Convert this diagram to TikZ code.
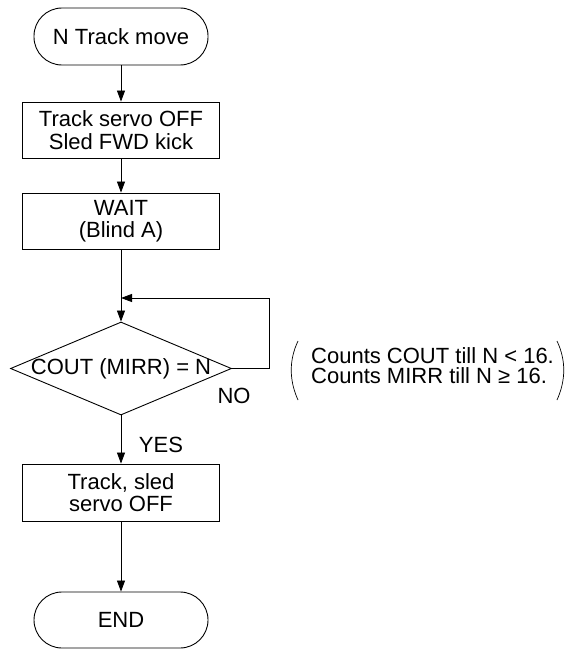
\documentclass[tikz,border=0pt]{standalone}
\usepackage{fontspec}
\setmainfont{Liberation Sans}
\usetikzlibrary{arrows.meta,shapes.geometric}
\tikzset{
  base/.style={draw, line width=0.9pt, inner sep=0pt, align=center, font=\fontsize{22}{22.5}\selectfont},
  term/.style={base, rectangle, rounded corners=28pt, minimum width=174pt, minimum height=57pt},
  proc/.style={base, rectangle, minimum width=197pt, minimum height=57pt},
  conn/.style={line width=0.8pt, -{Triangle[length=11pt,width=8pt]}},
  lbl/.style={font=\fontsize{22}{22}\selectfont, inner sep=0pt},
  paren/.style={line width=0.7pt}
}
\begin{document}
\begin{tikzpicture}[x=1pt,y=-1pt]
\useasboundingbox (0,0) rectangle (567,653);
\node[term] (start) at (121,36.5) {N Track move};
\node[proc, minimum height=56pt] (box1) at (121,130) {Track servo OFF\\Sled FWD kick};
\node[proc, minimum height=56pt] (box2) at (121,221) {WAIT\\(Blind A)};
\node[draw, line width=0.9pt, diamond, inner sep=0pt, minimum width=221pt, minimum height=93pt] (dec) at (121,368.5) {};
\node[lbl] (dectext) at (dec.center) {COUT (MIRR) = N};
\node[proc] (box3) at (121,492.5) {Track, sled\\servo OFF};
\node[term, minimum height=56pt] (end) at (121,620) {END};
\coordinate (join) at (121,298);
\draw[conn] (start) -- (box1);
\draw[conn] (box1) -- (box2);
\draw[conn] (box2) -- (dec.north);
\draw[conn] (dec.south) -- (box3);
\draw[conn] (box3) -- (end);
\draw[conn] (dec.east) -- ++(37,0) |- (join);
\node[lbl] (no) at (234,396) {NO};
\node[lbl] (yes) at (161,445) {YES};
\node[lbl, anchor=west, align=left, font=\fontsize{22}{20}\selectfont] (note) at (311,365.5) {Counts COUT till N < 16.\\Counts MIRR till N ≥ 16.};
\draw[paren] (298,341) .. controls (289,360) and (289,380) .. (298,400);
\draw[paren] (557,341) .. controls (566,360) and (566,380) .. (557,400);
\end{tikzpicture}
\end{document}
